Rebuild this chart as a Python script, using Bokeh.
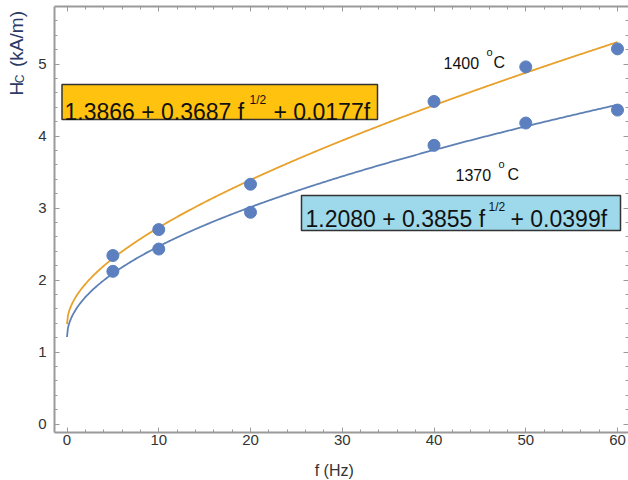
import numpy as np
from bokeh.plotting import figure
from bokeh.models import Range1d, LinearAxis, FixedTicker, BoxAnnotation, Label
from bokeh.embed import file_html
from bokeh.resources import INLINE

# ---------------- data ----------------
freq = [5, 10, 20, 40, 50, 60]
hc_1400 = [2.34, 2.70, 3.33, 4.48, 4.96, 5.21]
hc_1370 = [2.12, 2.43, 2.94, 3.87, 4.18, 4.36]
# fitted curves  a + b*f^(1/2) + c*f  (blue curve as drawn in the picture)
fit_1400 = [1.3866, 0.3687, 0.0177]
fit_1370 = [1.2080, 0.3855, 0.00399]
x_ticks = [0, 10, 20, 30, 40, 50, 60]
x_minor = [v for v in range(0, 61, 2) if v % 10]
y_ticks = [0, 1, 2, 3, 4, 5]
y_minor = [round(v * 0.2, 1) for v in range(0, 29) if v % 5]
eq_1400 = ["1.3866 + 0.3687 f", "1/2", "+ 0.0177f"]
eq_1370 = ["1.2080 + 0.3855 f", "1/2", "+ 0.0399f"]
temp_1400 = ["1400", "o", "C"]
temp_1370 = ["1370", "o", "C"]
x_title = "f  (Hz)"
y_title = ["H", "C", "(kA/m)"]

# ---------------- styling helpers ----------------
FONT = "Liberation Sans"
ORANGE = "#E8A12A"
BLUE = "#5E81B5"
PT = "#5B7FBF"
AX = "#9a9a9a"

# page-pixel -> data helpers (for annotation / frame placement only)
def dx(px):
    return (px - 66.5) / 9.175

def dy(py):
    return (423.5 - py) / 72.0

W, H = 628, 480
FL, FR, FT, FB = 54, 628, 6, 432   # frame box in page pixels

p = figure(width=W, height=H, output_backend="svg", toolbar_location=None,
           x_range=Range1d(dx(0), dx(W)), y_range=Range1d(dy(H), dy(0)),
           min_border_left=0, min_border_right=0, min_border_top=0,
           min_border_bottom=0, x_axis_location=None, y_axis_location=None)
p.xgrid.visible = False
p.ygrid.visible = False
p.outline_line_color = None
p.background_fill_color = "white"
p.border_fill_color = "white"

def style_axis(ax, ticks, show_labels, line=True):
    ax.major_tick_in = 5
    ax.major_tick_out = 0
    ax.minor_tick_in = 3
    ax.minor_tick_out = 0
    ax.major_tick_line_color = AX
    ax.minor_tick_line_color = AX
    ax.axis_line_color = AX if line else None
    ax.axis_line_width = 2
    if show_labels:
        ax.major_label_text_font = FONT
        ax.major_label_text_font_size = "15px"
        ax.major_label_text_color = "#333333"
    else:
        ax.major_label_overrides = {t: "" for t in ticks}
        ax.major_label_standoff = 0

xb = LinearAxis(ticker=FixedTicker(ticks=x_ticks, minor_ticks=x_minor),
                fixed_location=dy(FB), bounds=(dx(FL), dx(FR)))
style_axis(xb, x_ticks, True)
xb.major_label_standoff = 2
p.add_layout(xb, "below")

yl = LinearAxis(ticker=FixedTicker(ticks=y_ticks, minor_ticks=y_minor),
                fixed_location=dx(FL), bounds=(dy(FB), dy(FT)))
style_axis(yl, y_ticks, True)
yl.major_label_standoff = 8
p.add_layout(yl, "left")

xt = LinearAxis(ticker=FixedTicker(ticks=x_ticks, minor_ticks=x_minor),
                fixed_location=dy(FT), bounds=(dx(FL), dx(FR)))
style_axis(xt, x_ticks, False)
p.add_layout(xt, "above")

yr = LinearAxis(ticker=FixedTicker(ticks=y_ticks, minor_ticks=y_minor),
                fixed_location=dx(FR), bounds=(dy(FB), dy(FT)))
style_axis(yr, y_ticks, False, line=False)
p.add_layout(yr, "right")

# y axis title: pieces drawn as labels of tick-less left axes (rotated by Bokeh)
YT_COLOR = "#2b3a66"
def title_axis(txt, size, py_bottom, py_top, standoff):
    ax = LinearAxis(ticker=FixedTicker(ticks=[]), fixed_location=dx(FL),
                    bounds=(dy(py_bottom), dy(py_top)))
    ax.axis_line_color = None
    ax.major_tick_line_color = None
    ax.minor_tick_line_color = None
    ax.major_tick_in = 0
    ax.major_tick_out = 0
    ax.minor_tick_in = 0
    ax.minor_tick_out = 0
    ax.major_label_standoff = 0
    ax.axis_label = txt
    ax.axis_label_text_font = FONT
    ax.axis_label_text_font_size = f"{size}px"
    ax.axis_label_text_font_style = "normal"
    ax.axis_label_text_color = YT_COLOR
    ax.axis_label_standoff = standoff
    p.add_layout(ax, "left")

title_axis(y_title[0], 19, 95, 81, 28)
title_axis(y_title[1], 12, 83, 74, 28)
title_axis(y_title[2], 19, 67, 10, 28)

# ---------------- fitted curves ----------------
fgrid = np.linspace(0, 60, 601)
def curve(c):
    return c[0] + c[1] * np.sqrt(fgrid) + c[2] * fgrid

p.line(fgrid, curve(fit_1400), line_color=ORANGE, line_width=1.8)
p.line(fgrid, curve(fit_1370), line_color=BLUE, line_width=1.8)

# ---------------- data points ----------------
p.scatter(freq, hc_1400, size=12, color=PT)
p.scatter(freq, hc_1370, size=12, color=PT)

# ---------------- equation boxes ----------------
p.add_layout(BoxAnnotation(left=dx(61.5), right=dx(377), top=dy(84), bottom=dy(119),
                           fill_color="#FFC20E", fill_alpha=1.0,
                           line_color="#333333", line_width=1.5, line_alpha=1.0))
p.add_layout(BoxAnnotation(left=dx(301), right=dx(620), top=dy(195), bottom=dy(230),
                           fill_color="#9DD9EA", fill_alpha=1.0,
                           line_color="#333333", line_width=1.5, line_alpha=1.0))

def lab(txt, px, py, size, align="left", color="#111111"):
    p.add_layout(Label(x=dx(px), y=dy(py), text=txt, text_font=FONT,
                       text_font_size=f"{size}px", text_color=color,
                       text_align=align, text_baseline="alphabetic"))

lab(eq_1400[0], 64, 111, 23)
lab(eq_1400[1], 249, 99, 12)
lab(eq_1400[2], 273, 111, 23)

lab(eq_1370[0], 305, 218, 23)
lab(eq_1370[1], 488, 206, 12)
lab(eq_1370[2], 510, 218, 23)

# temperature labels
lab(temp_1400[0], 443, 62, 16)
lab(temp_1400[1], 486, 51, 11)
lab(temp_1400[2], 493, 62, 16)
lab(temp_1370[0], 455, 174, 16)
lab(temp_1370[1], 498, 163, 11)
lab(temp_1370[2], 507, 174, 16)

# x axis title
lab(x_title, 336, 470, 16, align="center", color="#333333")

open("out.html", "w").write(file_html(p, INLINE))
